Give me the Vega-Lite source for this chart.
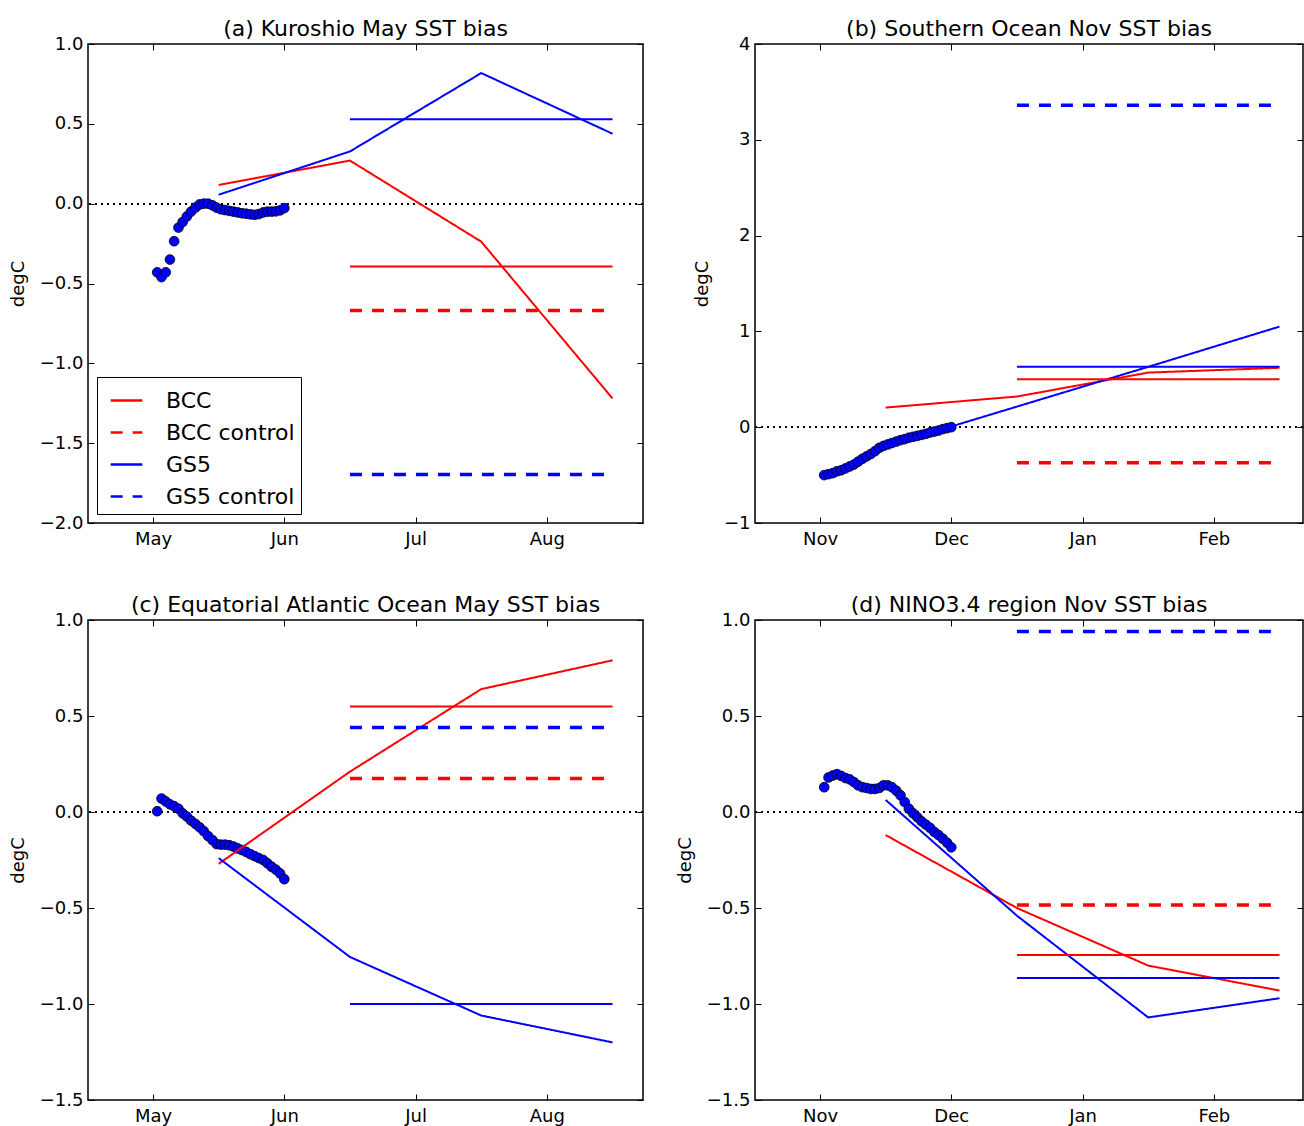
{
  "$schema": "https://vega.github.io/schema/vega-lite/v6.json",
  "padding": {"left": 8, "top": 17, "right": 0, "bottom": 0},
  "config": {
    "font": "DejaVu Sans",
    "view": {"stroke": "black", "strokeWidth": 1.5},
    "axis": {"grid": false, "domain": false, "tickColor": "black", "tickSize": 6, "offset": -6, "tickWidth": 1, "labelFontSize": 18, "labelColor": "black", "labelPadding": 5, "titleFontSize": 18, "titleFontWeight": "normal", "titleColor": "black", "titlePadding": 12, "labelFont": "DejaVu Sans", "titleFont": "DejaVu Sans"},
    "axisX": {"labelPadding": 7},
    "title": {"fontSize": 22, "fontWeight": "normal", "color": "black", "offset": 4, "dy": 10, "font": "DejaVu Sans"}
  },
  "datasets": {
    "obsA": [
      {"t": 0.032, "v": -0.43}, {"t": 0.065, "v": -0.46}, {"t": 0.097, "v": -0.43}, {"t": 0.129, "v": -0.35}, {"t": 0.161, "v": -0.235},
      {"t": 0.194, "v": -0.15}, {"t": 0.226, "v": -0.115}, {"t": 0.258, "v": -0.08}, {"t": 0.290, "v": -0.05}, {"t": 0.323, "v": -0.025},
      {"t": 0.355, "v": -0.005}, {"t": 0.387, "v": 0.0}, {"t": 0.419, "v": 0.0}, {"t": 0.452, "v": -0.01}, {"t": 0.484, "v": -0.025},
      {"t": 0.516, "v": -0.035}, {"t": 0.548, "v": -0.04}, {"t": 0.581, "v": -0.045}, {"t": 0.613, "v": -0.05}, {"t": 0.645, "v": -0.055},
      {"t": 0.677, "v": -0.06}, {"t": 0.710, "v": -0.063}, {"t": 0.742, "v": -0.067}, {"t": 0.774, "v": -0.07}, {"t": 0.806, "v": -0.065},
      {"t": 0.839, "v": -0.055}, {"t": 0.871, "v": -0.05}, {"t": 0.903, "v": -0.05}, {"t": 0.935, "v": -0.048}, {"t": 0.968, "v": -0.042},
      {"t": 1.0, "v": -0.028}
    ],
    "linesA": [
      {"t": 0.5, "v": 0.117, "series": "BCC", "kind": "monthly"},
      {"t": 1.5, "v": 0.27, "series": "BCC", "kind": "monthly"},
      {"t": 2.5, "v": -0.238, "series": "BCC", "kind": "monthly"},
      {"t": 3.5, "v": -1.22, "series": "BCC", "kind": "monthly"},
      {"t": 0.5, "v": 0.056, "series": "GS5", "kind": "monthly"},
      {"t": 1.5, "v": 0.327, "series": "GS5", "kind": "monthly"},
      {"t": 2.5, "v": 0.818, "series": "GS5", "kind": "monthly"},
      {"t": 3.5, "v": 0.438, "series": "GS5", "kind": "monthly"},
      {"t": 1.5, "v": -0.393, "series": "BCC", "kind": "mean"},
      {"t": 3.5, "v": -0.393, "series": "BCC", "kind": "mean"},
      {"t": 1.5, "v": -0.669, "series": "BCC control", "kind": "mean"},
      {"t": 3.5, "v": -0.669, "series": "BCC control", "kind": "mean"},
      {"t": 1.5, "v": 0.529, "series": "GS5", "kind": "mean"},
      {"t": 3.5, "v": 0.529, "series": "GS5", "kind": "mean"},
      {"t": 1.5, "v": -1.696, "series": "GS5 control", "kind": "mean"},
      {"t": 3.5, "v": -1.696, "series": "GS5 control", "kind": "mean"}
    ],
    "obsB": [
      {"t": 0.032, "v": -0.50}, {"t": 0.065, "v": -0.49}, {"t": 0.097, "v": -0.48}, {"t": 0.129, "v": -0.46}, {"t": 0.161, "v": -0.45},
      {"t": 0.194, "v": -0.43}, {"t": 0.226, "v": -0.41}, {"t": 0.258, "v": -0.39}, {"t": 0.290, "v": -0.36}, {"t": 0.323, "v": -0.33},
      {"t": 0.355, "v": -0.305}, {"t": 0.387, "v": -0.28}, {"t": 0.419, "v": -0.25}, {"t": 0.452, "v": -0.215}, {"t": 0.484, "v": -0.195},
      {"t": 0.516, "v": -0.18}, {"t": 0.548, "v": -0.165}, {"t": 0.581, "v": -0.15}, {"t": 0.613, "v": -0.135}, {"t": 0.645, "v": -0.125},
      {"t": 0.677, "v": -0.11}, {"t": 0.710, "v": -0.10}, {"t": 0.742, "v": -0.09}, {"t": 0.774, "v": -0.08}, {"t": 0.806, "v": -0.07},
      {"t": 0.839, "v": -0.055}, {"t": 0.871, "v": -0.045}, {"t": 0.903, "v": -0.035}, {"t": 0.935, "v": -0.02}, {"t": 0.968, "v": -0.01},
      {"t": 1.0, "v": 0.0}
    ],
    "linesB": [
      {"t": 0.5, "v": 0.205, "series": "BCC", "kind": "monthly"},
      {"t": 1.5, "v": 0.32, "series": "BCC", "kind": "monthly"},
      {"t": 2.5, "v": 0.57, "series": "BCC", "kind": "monthly"},
      {"t": 3.5, "v": 0.62, "series": "BCC", "kind": "monthly"},
      {"t": 0.5, "v": -0.2, "series": "GS5", "kind": "monthly"},
      {"t": 1.5, "v": 0.215, "series": "GS5", "kind": "monthly"},
      {"t": 2.5, "v": 0.63, "series": "GS5", "kind": "monthly"},
      {"t": 3.5, "v": 1.05, "series": "GS5", "kind": "monthly"},
      {"t": 1.5, "v": 0.50, "series": "BCC", "kind": "mean"},
      {"t": 3.5, "v": 0.50, "series": "BCC", "kind": "mean"},
      {"t": 1.5, "v": -0.37, "series": "BCC control", "kind": "mean"},
      {"t": 3.5, "v": -0.37, "series": "BCC control", "kind": "mean"},
      {"t": 1.5, "v": 0.63, "series": "GS5", "kind": "mean"},
      {"t": 3.5, "v": 0.63, "series": "GS5", "kind": "mean"},
      {"t": 1.5, "v": 3.36, "series": "GS5 control", "kind": "mean"},
      {"t": 3.5, "v": 3.36, "series": "GS5 control", "kind": "mean"}
    ],
    "obsC": [
      {"t": 0.032, "v": 0.004}, {"t": 0.065, "v": 0.07}, {"t": 0.097, "v": 0.055}, {"t": 0.129, "v": 0.04}, {"t": 0.161, "v": 0.03},
      {"t": 0.194, "v": 0.017}, {"t": 0.226, "v": -0.007}, {"t": 0.258, "v": -0.024}, {"t": 0.290, "v": -0.045}, {"t": 0.323, "v": -0.062},
      {"t": 0.355, "v": -0.08}, {"t": 0.387, "v": -0.10}, {"t": 0.419, "v": -0.125}, {"t": 0.452, "v": -0.146}, {"t": 0.484, "v": -0.167},
      {"t": 0.516, "v": -0.17}, {"t": 0.548, "v": -0.17}, {"t": 0.581, "v": -0.173}, {"t": 0.613, "v": -0.18}, {"t": 0.645, "v": -0.19},
      {"t": 0.677, "v": -0.198}, {"t": 0.710, "v": -0.208}, {"t": 0.742, "v": -0.22}, {"t": 0.774, "v": -0.23}, {"t": 0.806, "v": -0.24},
      {"t": 0.839, "v": -0.25}, {"t": 0.871, "v": -0.267}, {"t": 0.903, "v": -0.285}, {"t": 0.935, "v": -0.30}, {"t": 0.968, "v": -0.32},
      {"t": 1.0, "v": -0.35}
    ],
    "linesC": [
      {"t": 0.5, "v": -0.27, "series": "BCC", "kind": "monthly"},
      {"t": 1.5, "v": 0.21, "series": "BCC", "kind": "monthly"},
      {"t": 2.5, "v": 0.64, "series": "BCC", "kind": "monthly"},
      {"t": 3.5, "v": 0.79, "series": "BCC", "kind": "monthly"},
      {"t": 0.5, "v": -0.24, "series": "GS5", "kind": "monthly"},
      {"t": 1.5, "v": -0.755, "series": "GS5", "kind": "monthly"},
      {"t": 2.5, "v": -1.06, "series": "GS5", "kind": "monthly"},
      {"t": 3.5, "v": -1.20, "series": "GS5", "kind": "monthly"},
      {"t": 1.5, "v": 0.55, "series": "BCC", "kind": "mean"},
      {"t": 3.5, "v": 0.55, "series": "BCC", "kind": "mean"},
      {"t": 1.5, "v": 0.175, "series": "BCC control", "kind": "mean"},
      {"t": 3.5, "v": 0.175, "series": "BCC control", "kind": "mean"},
      {"t": 1.5, "v": -1.0, "series": "GS5", "kind": "mean"},
      {"t": 3.5, "v": -1.0, "series": "GS5", "kind": "mean"},
      {"t": 1.5, "v": 0.44, "series": "GS5 control", "kind": "mean"},
      {"t": 3.5, "v": 0.44, "series": "GS5 control", "kind": "mean"}
    ],
    "obsD": [
      {"t": 0.032, "v": 0.129}, {"t": 0.065, "v": 0.18}, {"t": 0.097, "v": 0.19}, {"t": 0.129, "v": 0.197}, {"t": 0.161, "v": 0.188},
      {"t": 0.194, "v": 0.177}, {"t": 0.226, "v": 0.17}, {"t": 0.258, "v": 0.156}, {"t": 0.290, "v": 0.139}, {"t": 0.323, "v": 0.129},
      {"t": 0.355, "v": 0.125}, {"t": 0.387, "v": 0.12}, {"t": 0.419, "v": 0.12}, {"t": 0.452, "v": 0.125}, {"t": 0.484, "v": 0.139},
      {"t": 0.516, "v": 0.139}, {"t": 0.548, "v": 0.129}, {"t": 0.581, "v": 0.111}, {"t": 0.613, "v": 0.087}, {"t": 0.645, "v": 0.052},
      {"t": 0.677, "v": 0.017}, {"t": 0.710, "v": -0.007}, {"t": 0.742, "v": -0.028}, {"t": 0.774, "v": -0.049}, {"t": 0.806, "v": -0.066},
      {"t": 0.839, "v": -0.083}, {"t": 0.871, "v": -0.104}, {"t": 0.903, "v": -0.12}, {"t": 0.935, "v": -0.139}, {"t": 0.968, "v": -0.16},
      {"t": 1.0, "v": -0.184}
    ],
    "linesD": [
      {"t": 0.5, "v": -0.12, "series": "BCC", "kind": "monthly"},
      {"t": 1.5, "v": -0.50, "series": "BCC", "kind": "monthly"},
      {"t": 2.5, "v": -0.80, "series": "BCC", "kind": "monthly"},
      {"t": 3.5, "v": -0.93, "series": "BCC", "kind": "monthly"},
      {"t": 0.5, "v": 0.063, "series": "GS5", "kind": "monthly"},
      {"t": 1.5, "v": -0.54, "series": "GS5", "kind": "monthly"},
      {"t": 2.5, "v": -1.07, "series": "GS5", "kind": "monthly"},
      {"t": 3.5, "v": -0.97, "series": "GS5", "kind": "monthly"},
      {"t": 1.5, "v": -0.745, "series": "BCC", "kind": "mean"},
      {"t": 3.5, "v": -0.745, "series": "BCC", "kind": "mean"},
      {"t": 1.5, "v": -0.485, "series": "BCC control", "kind": "mean"},
      {"t": 3.5, "v": -0.485, "series": "BCC control", "kind": "mean"},
      {"t": 1.5, "v": -0.865, "series": "GS5", "kind": "mean"},
      {"t": 3.5, "v": -0.865, "series": "GS5", "kind": "mean"},
      {"t": 1.5, "v": 0.94, "series": "GS5 control", "kind": "mean"},
      {"t": 3.5, "v": 0.94, "series": "GS5 control", "kind": "mean"}
    ]
  },
  "resolve": {"legend": {"color": "independent", "strokeDash": "independent"}},
  "spacing": 44,
  "vconcat": [
    {
      "spacing": 47,
      "resolve": {"legend": {"color": "independent", "strokeDash": "independent"}},
      "hconcat": [
        {
          "width": 555, "height": 479,
          "title": {"text": "(a) Kuroshio May SST bias"},
          "resolve": {"axis": {"x": "independent", "y": "independent"}},
          "layer": [
            {"data": {"name": "obsA"}, "mark": {"type": "rule", "color": "black", "strokeWidth": 1.2, "strokeDash": [1.5, 4.5]},
             "encoding": {"y": {"datum": 0, "type": "quantitative", "scale": {"domain": [-2, 1], "nice": false, "zero": false}, "axis": null}}},
            {"data": {"name": "obsA"}, "mark": {"type": "circle", "size": 95, "color": "#0000ff", "opacity": 1, "stroke": "black", "strokeWidth": 0.8},
             "encoding": {
               "x": {"field": "t", "type": "quantitative", "scale": {"domain": [-0.495, 3.732], "nice": false, "zero": false}, "axis": null},
               "y": {"field": "v", "type": "quantitative", "scale": {"domain": [-2, 1], "nice": false, "zero": false}, "axis": null}}},
            {"data": {"name": "linesA"}, "mark": {"type": "line"},
             "encoding": {
               "x": {"field": "t", "type": "quantitative", "scale": {"domain": [-0.495, 3.732], "nice": false, "zero": false},
                     "axis": {"orient": "bottom", "title": null, "values": [0, 1, 2, 3], "labelExpr": "['May','Jun','Jul','Aug'][datum.value]"}},
               "y": {"field": "v", "type": "quantitative", "scale": {"domain": [-2, 1], "nice": false, "zero": false},
                     "axis": {"orient": "left", "title": "degC", "values": [-2, -1.5, -1, -0.5, 0, 0.5, 1], "format": ".1f"}},
               "color": {"field": "series", "type": "nominal", "scale": {"domain": ["BCC", "BCC control", "GS5", "GS5 control"], "range": ["#ff0000", "#ff0000", "#0000ff", "#0000ff"]},
                         "legend": {"orient": "bottom-left", "offset": 9, "title": null, "strokeColor": "black", "padding": 6, "symbolOffset": 6, "labelFontSize": 22, "labelColor": "black", "labelFont": "DejaVu Sans", "symbolType": "stroke", "symbolSize": 1000, "symbolStrokeWidth": 2.5, "rowPadding": 3, "labelOffset": 22, "fillColor": "white"}},
               "strokeDash": {"field": "series", "type": "nominal", "scale": {"domain": ["BCC", "BCC control", "GS5", "GS5 control"], "range": [[1, 0], [12, 10], [1, 0], [12, 10]]},
                         "legend": {"orient": "bottom-left", "offset": 9, "title": null, "strokeColor": "black", "padding": 6, "symbolOffset": 6, "labelFontSize": 22, "labelColor": "black", "labelFont": "DejaVu Sans", "symbolType": "stroke", "symbolSize": 1000, "symbolStrokeWidth": 2.5, "rowPadding": 3, "labelOffset": 22, "fillColor": "white"}},
               "detail": {"field": "kind", "type": "nominal"},
               "strokeWidth": {"condition": {"test": "indexof(datum.series, 'control') >= 0", "value": 3.5}, "value": 2}}},
            {"data": {"name": "obsA"}, "mark": {"type": "point", "opacity": 0},
             "encoding": {
               "x": {"field": "t", "type": "quantitative", "scale": {"domain": [-0.495, 3.732], "nice": false, "zero": false},
                     "axis": {"orient": "top", "title": null, "labels": false, "values": [0, 1, 2, 3]}},
               "y": {"field": "v", "type": "quantitative", "scale": {"domain": [-2, 1], "nice": false, "zero": false},
                     "axis": {"orient": "right", "title": null, "labels": false, "values": [-2, -1.5, -1, -0.5, 0, 0.5, 1]}}}}
          ]
        },
        {
          "width": 548, "height": 479,
          "title": {"text": "(b) Southern Ocean Nov SST bias"},
          "resolve": {"axis": {"x": "independent", "y": "independent"}},
          "layer": [
            {"data": {"name": "obsB"}, "mark": {"type": "rule", "color": "black", "strokeWidth": 1.2, "strokeDash": [1.5, 4.5]},
             "encoding": {"y": {"datum": 0, "type": "quantitative", "scale": {"domain": [-1, 4], "nice": false, "zero": false}, "axis": null}}},
            {"data": {"name": "obsB"}, "mark": {"type": "circle", "size": 95, "color": "#0000ff", "opacity": 1, "stroke": "black", "strokeWidth": 0.8},
             "encoding": {
               "x": {"field": "t", "type": "quantitative", "scale": {"domain": [-0.495, 3.679], "nice": false, "zero": false}, "axis": null},
               "y": {"field": "v", "type": "quantitative", "scale": {"domain": [-1, 4], "nice": false, "zero": false}, "axis": null}}},
            {"data": {"name": "linesB"}, "mark": {"type": "line"},
             "encoding": {
               "x": {"field": "t", "type": "quantitative", "scale": {"domain": [-0.495, 3.679], "nice": false, "zero": false},
                     "axis": {"orient": "bottom", "title": null, "values": [0, 1, 2, 3], "labelExpr": "['Nov','Dec','Jan','Feb'][datum.value]"}},
               "y": {"field": "v", "type": "quantitative", "scale": {"domain": [-1, 4], "nice": false, "zero": false},
                     "axis": {"orient": "left", "title": "degC", "values": [-1, 0, 1, 2, 3, 4], "format": "d"}},
               "color": {"field": "series", "type": "nominal", "scale": {"domain": ["BCC", "BCC control", "GS5", "GS5 control"], "range": ["#ff0000", "#ff0000", "#0000ff", "#0000ff"]}, "legend": null},
               "strokeDash": {"field": "series", "type": "nominal", "scale": {"domain": ["BCC", "BCC control", "GS5", "GS5 control"], "range": [[1, 0], [12, 10], [1, 0], [12, 10]]}, "legend": null},
               "detail": {"field": "kind", "type": "nominal"},
               "strokeWidth": {"condition": {"test": "indexof(datum.series, 'control') >= 0", "value": 3.5}, "value": 2}}},
            {"data": {"name": "obsB"}, "mark": {"type": "point", "opacity": 0},
             "encoding": {
               "x": {"field": "t", "type": "quantitative", "scale": {"domain": [-0.495, 3.679], "nice": false, "zero": false},
                     "axis": {"orient": "top", "title": null, "labels": false, "values": [0, 1, 2, 3]}},
               "y": {"field": "v", "type": "quantitative", "scale": {"domain": [-1, 4], "nice": false, "zero": false},
                     "axis": {"orient": "right", "title": null, "labels": false, "values": [-1, 0, 1, 2, 3, 4]}}}}
          ]
        }
      ]
    },
    {
      "spacing": 30,
      "resolve": {"legend": {"color": "independent", "strokeDash": "independent"}},
      "hconcat": [
        {
          "width": 555, "height": 480,
          "title": {"text": "(c) Equatorial Atlantic Ocean May SST bias"},
          "resolve": {"axis": {"x": "independent", "y": "independent"}},
          "layer": [
            {"data": {"name": "obsC"}, "mark": {"type": "rule", "color": "black", "strokeWidth": 1.2, "strokeDash": [1.5, 4.5]},
             "encoding": {"y": {"datum": 0, "type": "quantitative", "scale": {"domain": [-1.5, 1], "nice": false, "zero": false}, "axis": null}}},
            {"data": {"name": "obsC"}, "mark": {"type": "circle", "size": 95, "color": "#0000ff", "opacity": 1, "stroke": "black", "strokeWidth": 0.8},
             "encoding": {
               "x": {"field": "t", "type": "quantitative", "scale": {"domain": [-0.495, 3.732], "nice": false, "zero": false}, "axis": null},
               "y": {"field": "v", "type": "quantitative", "scale": {"domain": [-1.5, 1], "nice": false, "zero": false}, "axis": null}}},
            {"data": {"name": "linesC"}, "mark": {"type": "line"},
             "encoding": {
               "x": {"field": "t", "type": "quantitative", "scale": {"domain": [-0.495, 3.732], "nice": false, "zero": false},
                     "axis": {"orient": "bottom", "title": null, "values": [0, 1, 2, 3], "labelExpr": "['May','Jun','Jul','Aug'][datum.value]"}},
               "y": {"field": "v", "type": "quantitative", "scale": {"domain": [-1.5, 1], "nice": false, "zero": false},
                     "axis": {"orient": "left", "title": "degC", "values": [-1.5, -1, -0.5, 0, 0.5, 1], "format": ".1f"}},
               "color": {"field": "series", "type": "nominal", "scale": {"domain": ["BCC", "BCC control", "GS5", "GS5 control"], "range": ["#ff0000", "#ff0000", "#0000ff", "#0000ff"]}, "legend": null},
               "strokeDash": {"field": "series", "type": "nominal", "scale": {"domain": ["BCC", "BCC control", "GS5", "GS5 control"], "range": [[1, 0], [12, 10], [1, 0], [12, 10]]}, "legend": null},
               "detail": {"field": "kind", "type": "nominal"},
               "strokeWidth": {"condition": {"test": "indexof(datum.series, 'control') >= 0", "value": 3.5}, "value": 2}}},
            {"data": {"name": "obsC"}, "mark": {"type": "point", "opacity": 0},
             "encoding": {
               "x": {"field": "t", "type": "quantitative", "scale": {"domain": [-0.495, 3.732], "nice": false, "zero": false},
                     "axis": {"orient": "top", "title": null, "labels": false, "values": [0, 1, 2, 3]}},
               "y": {"field": "v", "type": "quantitative", "scale": {"domain": [-1.5, 1], "nice": false, "zero": false},
                     "axis": {"orient": "right", "title": null, "labels": false, "values": [-1.5, -1, -0.5, 0, 0.5, 1]}}}}
          ]
        },
        {
          "width": 548, "height": 480,
          "title": {"text": "(d) NINO3.4 region Nov SST bias"},
          "resolve": {"axis": {"x": "independent", "y": "independent"}},
          "layer": [
            {"data": {"name": "obsD"}, "mark": {"type": "rule", "color": "black", "strokeWidth": 1.2, "strokeDash": [1.5, 4.5]},
             "encoding": {"y": {"datum": 0, "type": "quantitative", "scale": {"domain": [-1.5, 1], "nice": false, "zero": false}, "axis": null}}},
            {"data": {"name": "obsD"}, "mark": {"type": "circle", "size": 95, "color": "#0000ff", "opacity": 1, "stroke": "black", "strokeWidth": 0.8},
             "encoding": {
               "x": {"field": "t", "type": "quantitative", "scale": {"domain": [-0.495, 3.679], "nice": false, "zero": false}, "axis": null},
               "y": {"field": "v", "type": "quantitative", "scale": {"domain": [-1.5, 1], "nice": false, "zero": false}, "axis": null}}},
            {"data": {"name": "linesD"}, "mark": {"type": "line"},
             "encoding": {
               "x": {"field": "t", "type": "quantitative", "scale": {"domain": [-0.495, 3.679], "nice": false, "zero": false},
                     "axis": {"orient": "bottom", "title": null, "values": [0, 1, 2, 3], "labelExpr": "['Nov','Dec','Jan','Feb'][datum.value]"}},
               "y": {"field": "v", "type": "quantitative", "scale": {"domain": [-1.5, 1], "nice": false, "zero": false},
                     "axis": {"orient": "left", "title": "degC", "values": [-1.5, -1, -0.5, 0, 0.5, 1], "format": ".1f"}},
               "color": {"field": "series", "type": "nominal", "scale": {"domain": ["BCC", "BCC control", "GS5", "GS5 control"], "range": ["#ff0000", "#ff0000", "#0000ff", "#0000ff"]}, "legend": null},
               "strokeDash": {"field": "series", "type": "nominal", "scale": {"domain": ["BCC", "BCC control", "GS5", "GS5 control"], "range": [[1, 0], [12, 10], [1, 0], [12, 10]]}, "legend": null},
               "detail": {"field": "kind", "type": "nominal"},
               "strokeWidth": {"condition": {"test": "indexof(datum.series, 'control') >= 0", "value": 3.5}, "value": 2}}},
            {"data": {"name": "obsD"}, "mark": {"type": "point", "opacity": 0},
             "encoding": {
               "x": {"field": "t", "type": "quantitative", "scale": {"domain": [-0.495, 3.679], "nice": false, "zero": false},
                     "axis": {"orient": "top", "title": null, "labels": false, "values": [0, 1, 2, 3]}},
               "y": {"field": "v", "type": "quantitative", "scale": {"domain": [-1.5, 1], "nice": false, "zero": false},
                     "axis": {"orient": "right", "title": null, "labels": false, "values": [-1.5, -1, -0.5, 0, 0.5, 1]}}}}
          ]
        }
      ]
    }
  ]
}
